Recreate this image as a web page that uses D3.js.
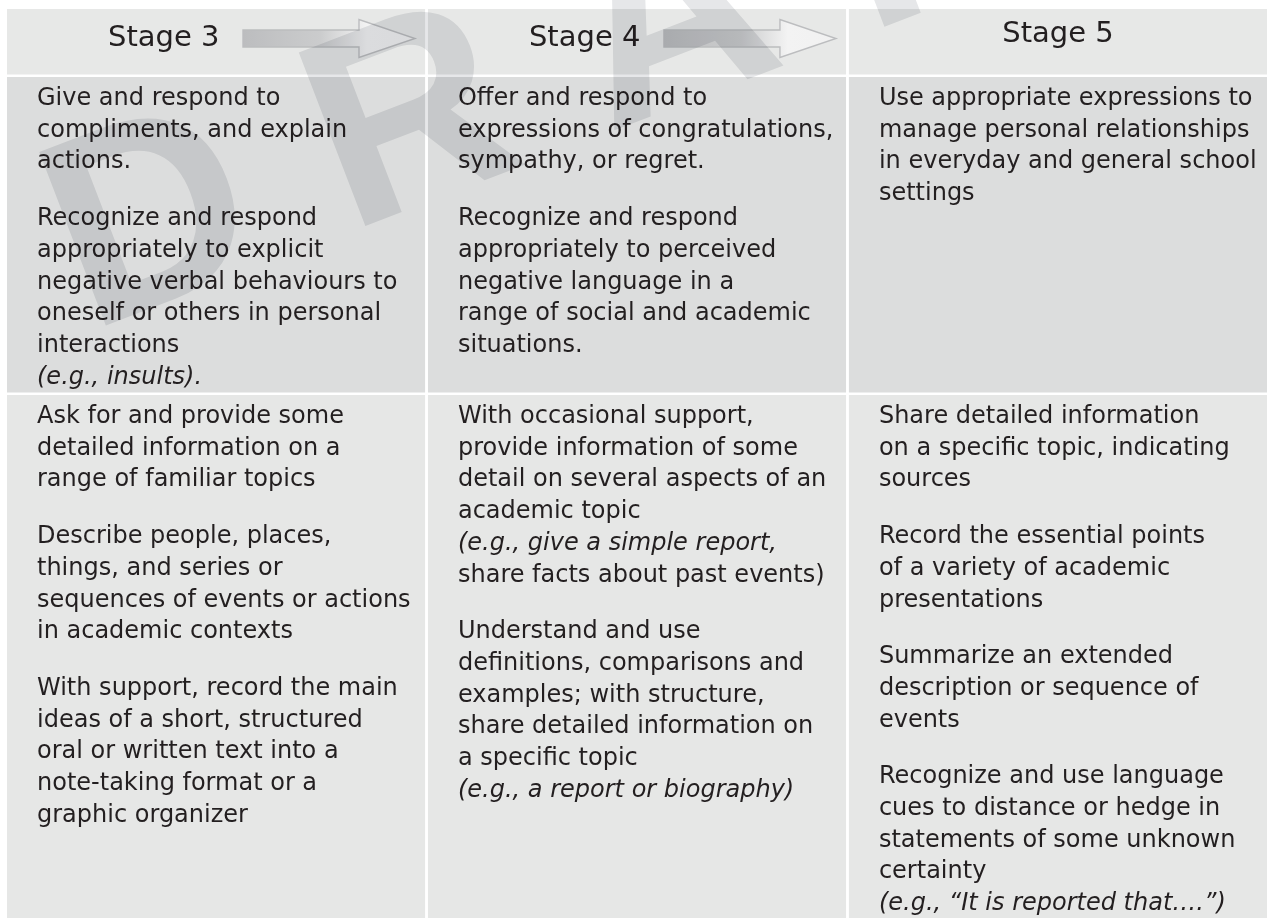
<!DOCTYPE html>
<html>
<head>
<meta charset="utf-8">
<script src="https://cdn.jsdelivr.net/npm/d3@7"></script>
<style>
  html, body { margin: 0; padding: 0; background: #ffffff; }
  svg { display: block; }
</style>
</head>
<body>
<div id="chart"></div>
<script>
// ---------------- data ----------------
const stages = ["Stage 3", "Stage 4", "Stage 5"];

// Row 1: paragraphs of pre-wrapped lines, one array per stage
const row1Stage3 = [
  ["Give and respond to", "compliments, and explain", "actions."],
  ["Recognize and respond", "appropriately to explicit", "negative verbal behaviours to",
   "oneself or others in personal", "interactions", "(e.g., insults)."]
];
const row1Stage4 = [
  ["Offer and respond to", "expressions of congratulations,", "sympathy, or regret."],
  ["Recognize and respond", "appropriately to perceived", "negative language in a",
   "range of social and academic", "situations."]
];
const row1Stage5 = [
  ["Use appropriate expressions to", "manage personal relationships",
   "in everyday and general school", "settings"]
];

// Row 2
const row2Stage3 = [
  ["Ask for and provide some", "detailed information on a", "range of familiar topics"],
  ["Describe people, places,", "things, and series or", "sequences of events or actions",
   "in academic contexts"],
  ["With support, record the main", "ideas of a short, structured", "oral or written text into a",
   "note-taking format or a", "graphic organizer"]
];
const row2Stage4 = [
  ["With occasional support,", "provide information of some", "detail on several aspects of an",
   "academic topic", "(e.g., give a simple report,", "share facts about past events)"],
  ["Understand and use", "definitions, comparisons and", "examples; with structure,",
   "share detailed information on", "a specific topic", "(e.g., a report or biography)"]
];
const row2Stage5 = [
  ["Share detailed information", "on a specific topic, indicating", "sources"],
  ["Record the essential points", "of a variety of academic", "presentations"],
  ["Summarize an extended", "description or sequence of", "events"],
  ["Recognize and use language", "cues to distance or hedge in", "statements of some unknown",
   "certainty", "(e.g., \u201CIt is reported that\u2026.\u201D)"]
];

const rowNames = ["header", "row1", "row2"];
const watermarkText = "DRAFT";

// ---------------- layout ----------------
const W = 1267, H = 918;
const svg = d3.select("#chart").append("svg")
  .attr("width", W).attr("height", H)
  .attr("viewBox", `0 0 ${W} ${H}`);

const defs = svg.append("defs");
const grad = defs.append("linearGradient").attr("id", "arrowGrad")
  .attr("x1", "0%").attr("x2", "100%").attr("y1", "0%").attr("y2", "0%");
grad.append("stop").attr("offset", "0%").attr("stop-color", "#bcbdbf");
grad.append("stop").attr("offset", "45%").attr("stop-color", "#cbcccd");
grad.append("stop").attr("offset", "72%").attr("stop-color", "#f3f3f3");
grad.append("stop").attr("offset", "100%").attr("stop-color", "#f1f1f1");

const x = d3.scaleBand().domain(stages).range([7, W]).paddingInner(0.0068);

const rowTop = { header: 9, row1: 77, row2: 395 };
const rowBottom = { header: 74.5, row1: 392.5, row2: H };
const rowFill = { header: "#e7e8e7", row1: "#dcdddd", row2: "#e6e7e6" };

const rows = {
  row1: [row1Stage3, row1Stage4, row1Stage5],
  row2: [row2Stage3, row2Stage4, row2Stage5]
};

// backgrounds
rowNames.forEach(r => {
  svg.append("g").selectAll("rect").data(stages).join("rect")
    .attr("x", d => x(d))
    .attr("y", rowTop[r])
    .attr("width", x.bandwidth())
    .attr("height", rowBottom[r] - rowTop[r])
    .attr("fill", rowFill[r]);
});

// header arrows
const arrowStages = ["Stage 3", "Stage 4"];
const arrowG = svg.append("g");
arrowStages.forEach(s => {
  const x0 = x(s) + 236, shaftEnd = x0 + 116, tip = x0 + 172;
  const cy = 38.5, sh = 8.5, hh = 19;
  const pts = [[x0, cy - sh], [shaftEnd, cy - sh], [shaftEnd, cy - hh], [tip, cy],
               [shaftEnd, cy + hh], [shaftEnd, cy + sh], [x0, cy + sh]];
  arrowG.append("path")
    .attr("d", d3.line()(pts) + "Z")
    .attr("fill", "url(#arrowGrad)")
    .attr("stroke", "#bcbdbf")
    .attr("stroke-width", 1.4)
    .attr("stroke-linejoin", "miter");
});

// header texts
const headerG = svg.append("g")
  .attr("font-family", "'DejaVu Sans', Verdana, sans-serif")
  .attr("font-size", 29)
  .attr("fill", "#231f20");
headerG.selectAll("text").data(stages).join("text")
  .attr("x", (d, i) => i < 2 ? x(d) + 101 : x(d) + x.bandwidth() / 2)
  .attr("y", (d, i) => i < 2 ? 46 : 42)
  .attr("text-anchor", (d, i) => i < 2 ? "start" : "middle")
  .text(d => d);

// body texts
const lineH = 31.7, paraGap = 25, firstOffset = 28, padX = 30;
const bodyG = svg.append("g")
  .attr("font-family", "'DejaVu Sans', Verdana, sans-serif")
  .attr("font-size", 24)
  .attr("fill", "#231f20");

["row1", "row2"].forEach(r => {
  rows[r].forEach((paras, ci) => {
    const stage = stages[ci];
    let y = rowTop[r] + firstOffset;
    const items = [];
    paras.forEach((lines, pi) => {
      if (pi > 0) y += paraGap;
      lines.forEach(line => { items.push({ line, y }); y += lineH; });
    });
    bodyG.append("g").selectAll("text").data(items).join("text")
      .attr("x", x(stage) + padX)
      .attr("y", d => d.y)
      .attr("font-style", d => /^\(e\.g\./.test(d.line) ? "italic" : "normal")
      .text(d => d.line);
  });
});

// watermark
svg.append("text")
  .attr("transform", "translate(89,332) rotate(-21)")
  .attr("font-family", "'Liberation Sans', Arial, sans-serif")
  .attr("font-weight", "bold")
  .attr("font-size", 270)
  .attr("letter-spacing", 83)
  .attr("fill", "#e6e7e9")
  .style("mix-blend-mode", "multiply")
  .text(watermarkText);
</script>
</body>
</html>
